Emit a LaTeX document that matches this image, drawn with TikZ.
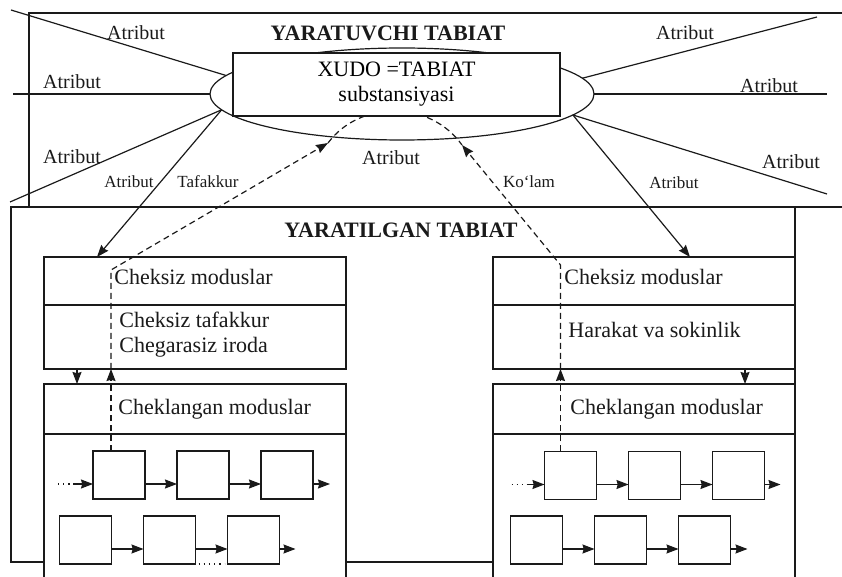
\documentclass[tikz,border=0pt]{standalone}
\usepackage{fontspec}
\setmainfont{Liberation Serif}
\usepackage{xcolor}
\usepackage{tikz}
\usetikzlibrary{positioning,arrows.meta,shapes.geometric,calc}
\definecolor{tbInk}{HTML}{1A1A1A}
\definecolor{tbWhite}{HTML}{FFFFFF}
\tikzset{
  tb-line/.style={draw=tbInk, line width=0.6pt},
  tb-box/.style={
    draw=tbInk, line width=0.6pt, fill=tbWhite,
    inner sep=0pt, outer sep=0pt
  },
  tb-flow/.style={-{Stealth[length=6pt,width=4.5pt,inset=0.6pt]},
    line width=0.6pt, draw=tbInk},
  tb-flow-d/.style={tb-flow, dash pattern=on 3pt off 2pt},
  tb-label/.style={font=\fontsize{10}{12}\selectfont, text=tbInk, inner sep=1pt},
  tb-small/.style={font=\fontsize{8.5}{10}\selectfont, text=tbInk, inner sep=1pt},
  tb-title/.style={font=\fontsize{11}{13}\selectfont\bfseries, text=tbInk},
  tb-text/.style={font=\fontsize{11}{12.5}\selectfont, text=tbInk,
    align=left, inner sep=0pt}
}

\begin{document}
\begin{tikzpicture}[
  x=0.5pt, y=-0.5pt,
  node distance=16pt,
  col/.style={tb-box, minimum width=151pt},
  cell/.style={tb-box, minimum width=26pt, minimum height=24pt}
]
\useasboundingbox (0,0) rectangle (842,577);
\clip (0,0) rectangle (842,577);

% Frames
\draw[tb-line] (842,13) -- (29,13) -- (29,207);
\draw[tb-line] (11,207) rectangle (795,562);
\draw[tb-line] (795,207) -- (842,207);

% Substance
\node[tb-box, ellipse, fill=none, minimum width=192pt, minimum height=46pt]
  (ell) at (402,94) {};
\coordinate (ltip) at (328,143);
\coordinate (rtip) at (462,145);
\draw[tb-line, dash pattern=on 3pt off 2pt]
  (ltip) .. controls (360,100) and (430,100) .. (rtip);
\node[tb-box, minimum width=163.5pt, minimum height=31.5pt, align=center,
  font=\fontsize{11}{12.5}\selectfont] (subst) at (396.5,84.5)
  {XUDO =TABIAT\\ substansiyasi};
\node[tb-title] (creator) at (388,33) {YARATUVCHI TABIAT};

% Attributes
\coordinate (a-ul) at (11,10);
\coordinate (a-ml) at (13,94);
\coordinate (a-ll) at (10,202);
\coordinate (a-ur) at (817,17);
\coordinate (a-mr) at (827,94);
\coordinate (a-lr) at (827,194);
\draw[tb-line] (ell.174.6) -- (a-ul);
\draw[tb-line] (ell.west) -- (a-ml);
\draw[tb-line] (ell.185.9) -- (a-ll);
\draw[tb-line] (ell.5.5) -- (a-ur);
\draw[tb-line] (ell.east) -- (a-mr);
\draw[tb-line] (ell.353.8) -- (a-lr);

\node[tb-label] (at-ul) at (136,33) {Atribut};
\node[tb-label] (at-ml) at (72,82) {Atribut};
\node[tb-label] (at-ll) at (72,157) {Atribut};
\node[tb-small] (at-sl) at (129,182) {Atribut};
\node[tb-small] (think) at (208,182) {Tafakkur};
\node[tb-label] (at-bot) at (391,158) {Atribut};
\node[tb-small] (extent) at (529,182) {Ko‘lam};
\node[tb-small] (at-sr) at (674,183) {Atribut};
\node[tb-label] (at-ur) at (685,33) {Atribut};
\node[tb-label] (at-mr) at (769,86) {Atribut};
\node[tb-label] (at-lr) at (791,162) {Atribut};

\node[tb-title] (created) at (401,230) {YARATILGAN TABIAT};

% Left column
\node[col, minimum height=24pt] (lA) at (195,281) {};
\node[col, minimum height=32pt, below=0pt of lA] (lB) {};
\node[col, minimum height=25pt, below=7.5pt of lB] (lC) {};
\node[col, minimum height=83pt, below=0pt of lC] (lD) {};
\node[tb-text, right=35pt of lA.west, yshift=2pt] (ltA) {Cheksiz moduslar};
\node[tb-text, right=37.5pt of lB.west, yshift=1.25pt] (ltB)
  {Cheksiz tafakkur\\ Chegarasiz iroda};
\node[tb-text, right=37pt of lC.west] (ltC) {Cheklangan moduslar};

% Right column
\node[col, minimum height=24pt] (rA) at (644,281) {};
\node[col, minimum height=32pt, below=0pt of rA] (rB) {};
\node[col, minimum height=25pt, below=7.5pt of rB] (rC) {};
\node[col, minimum height=83pt, below=0pt of rC] (rD) {};
\node[tb-text, right=35.5pt of rA.west, yshift=2pt] (rtA) {Cheksiz moduslar};
\node[tb-text, right=37.5pt of rB.west, yshift=3.5pt] (rtB) {Harakat va sokinlik};
\node[tb-text, right=38.5pt of rC.west] (rtC) {Cheklangan moduslar};

% Finite modes
\node[cell] (lb1) at (119,475) {};
\node[cell, right=of lb1] (lb2) {};
\node[cell, right=of lb2] (lb3) {};
\node[cell] (lc1) at (85.5,540) {};
\node[cell, right=of lc1] (lc2) {};
\node[cell, right=of lc2] (lc3) {};
\node[cell] (rb1) at (570.5,475.5) {};
\node[cell, right=of rb1] (rb2) {};
\node[cell, right=of rb2] (rb3) {};
\node[cell] (rc1) at (536.5,540) {};
\node[cell, right=of rc1] (rc2) {};
\node[cell, right=of rc2] (rc3) {};

\coordinate (lb-dots) at ([shift={(-17.5pt,-4.5pt)}]lb1.west);
\coordinate (lb-in) at ([shift={(-10pt,-4.5pt)}]lb1.west);
\coordinate (rb-dots) at ([shift={(-16.5pt,-4.5pt)}]rb1.west);
\coordinate (rb-in) at ([shift={(-9pt,-4.5pt)}]rb1.west);
\coordinate (lb-out) at ([shift={(8.5pt,-4.5pt)}]lb3.east);
\coordinate (lc-out) at ([shift={(8pt,-4.5pt)}]lc3.east);
\coordinate (rb-out) at ([shift={(8pt,-4.5pt)}]rb3.east);
\coordinate (rc-out) at ([shift={(8.5pt,-4.5pt)}]rc3.east);

\draw[tb-line, dotted] (lb-dots) -- (lb-in);
\draw[tb-line, dotted] (rb-dots) -- (rb-in);
\draw[tb-flow] (lb-in) -- ([yshift=-4.5pt]lb1.west);
\draw[tb-flow] (rb-in) -- ([yshift=-4.5pt]rb1.west);
\draw[tb-flow] ([yshift=-4.5pt]lb1.east) -- ([yshift=-4.5pt]lb2.west);
\draw[tb-flow] ([yshift=-4.5pt]lb2.east) -- ([yshift=-4.5pt]lb3.west);
\draw[tb-flow] ([yshift=-4.5pt]lb3.east) -- (lb-out);
\draw[tb-flow] ([yshift=-4.5pt]lc1.east) -- ([yshift=-4.5pt]lc2.west);
\draw[tb-flow] ([yshift=-4.5pt]lc2.east) -- ([yshift=-4.5pt]lc3.west);
\draw[tb-flow] ([yshift=-4.5pt]lc3.east) -- (lc-out);
\draw[tb-line, dotted] ([xshift=1.5pt]lc2.south east) -- ([xshift=-1.5pt]lc3.south west);
\draw[tb-flow] ([yshift=-4.5pt]rb1.east) -- ([yshift=-4.5pt]rb2.west);
\draw[tb-flow] ([yshift=-4.5pt]rb2.east) -- ([yshift=-4.5pt]rb3.west);
\draw[tb-flow] ([yshift=-4.5pt]rb3.east) -- (rb-out);
\draw[tb-flow] ([yshift=-4.5pt]rc1.east) -- ([yshift=-4.5pt]rc2.west);
\draw[tb-flow] ([yshift=-4.5pt]rc2.east) -- ([yshift=-4.5pt]rc3.west);
\draw[tb-flow] ([yshift=-4.5pt]rc3.east) -- (rc-out);

% Relations
\draw[tb-flow] (ell.185.9) -- ([xshift=26.5pt]lA.north west);
\draw[tb-flow] (ell.353.8) -- ([xshift=98.5pt]rA.north west);
\draw[tb-flow] ([xshift=16.5pt]lB.south west) -- ([xshift=16.5pt]lC.north west);
\draw[tb-flow] ([xshift=126pt]rB.south west) -- ([xshift=126pt]rC.north west);

\coordinate (ldash) at ([xshift=9pt]lb1.north west);
\coordinate (rdash) at ([xshift=8pt]rb1.north west);
\path (ldash |- lA.north) ++(0,13) coordinate (lturn);
\path (rdash |- rA.north) ++(0,8) coordinate (rturn);
\draw[tb-flow-d] (ldash) -- (ldash |- lB.south);
\draw[tb-flow-d] (ldash |- lB.south) -- (lturn) -- (ltip);
\draw[tb-flow-d] (rdash) -- (rdash |- rB.south);
\draw[tb-flow-d] (rdash |- rB.south) -- (rturn) -- (rtip);
\end{tikzpicture}
\end{document}
